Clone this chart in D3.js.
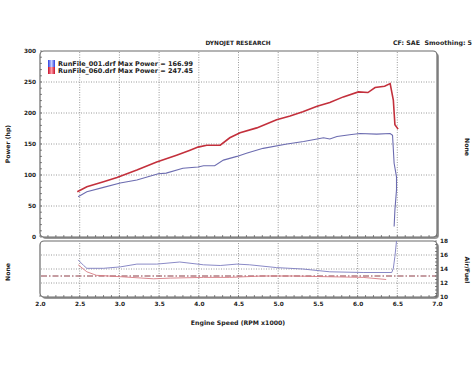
<!DOCTYPE html>
<html><head><meta charset="utf-8">
<script src="https://cdnjs.cloudflare.com/ajax/libs/d3/7.8.5/d3.min.js"></script>
<style>
html,body{margin:0;padding:0;background:#fff;}
svg{display:block;font-family:"DejaVu Sans",Verdana,sans-serif;font-weight:bold;}
</style></head><body>
<svg id="c" width="474" height="379"></svg>
<script>
// ---- data ----
const rpmTicks = [2.0,2.5,3.0,3.5,4.0,4.5,5.0,5.5,6.0,6.5,7.0];
const powerTicks = [0,50,100,150,200,250,300];
const afrTicks = [10,12,14,16,18];

const run1Rpm = [2.48,2.59,2.80,3.01,3.22,3.49,3.59,3.80,3.99,4.06,4.20,4.31,4.48,4.60,4.81,5.11,5.32,5.49,5.57,5.65,5.74,5.90,6.03,6.24,6.41,6.44,6.46,6.49,6.49,6.47,6.46];
const run1Hp  = [65,73,80,87,92,102,103,111,113,115,115,124,130,135,143,150,154,158,160,158,162,165,167,166,166.99,164,119,97,76,44,17];

const run60Rpm = [2.47,2.59,2.80,2.97,3.22,3.47,3.72,3.89,3.99,4.10,4.27,4.39,4.52,4.73,4.98,5.15,5.31,5.49,5.65,5.82,6.01,6.13,6.22,6.34,6.41,6.45,6.47,6.51];
const run60Hp  = [73,81,89,96,108,121,132,140,145,148,148,160,168,176,189,195,202,211,217,226,234,233,241,243,247.45,221,181,174];

const afr1Rpm = [2.48,2.55,2.59,2.80,3.01,3.22,3.47,3.76,4.06,4.27,4.48,4.64,4.98,5.31,5.65,6.07,6.43,6.45,6.47,6.49];
const afr1Val = [15.3,14.5,14.1,14.1,14.3,14.7,14.7,15.0,14.6,14.5,14.7,14.6,14.2,14.0,13.6,13.5,13.5,14.1,15.8,18.0];

const afr60Rpm = [2.48,2.59,2.71,3.01,3.43,3.64,4.06,4.39,4.80,5.20,5.60,6.07,6.36];
const afr60Val = [14.6,13.6,13.1,12.9,12.6,12.7,12.8,12.8,13.0,13.0,12.9,12.8,12.5];

const afrRef = 13.0;
const legendLabels = ["RunFile_001.drf Max Power = 166.99","RunFile_060.drf Max Power = 247.45"];

// ---- drawing ----
const svg = d3.select("#c");
const L=40, R=437, T1=51, B1=237, T2=241, B2=297;
const x = d3.scaleLinear().domain([2,7]).range([L,R]);
const yP = d3.scaleLinear().domain([0,300]).range([B1,T1]);
const yA = d3.scaleLinear().domain([10,18]).range([B2,T2]);

const blue="#6c6cb0", red="#c3303c";

// frames with shadow
function frame(t,b){
  svg.append("rect").attr("x",L+2).attr("y",t+2).attr("width",R-L).attr("height",b-t)
    .attr("rx",4).attr("fill","#9a9a9a");
  svg.append("rect").attr("x",L).attr("y",t).attr("width",R-L).attr("height",b-t)
    .attr("rx",4).attr("fill","#fff").attr("stroke","#6b6b6b").attr("stroke-width",1.2);
}
frame(T1,B1);
frame(T2,B2);

const grid = svg.append("g").attr("stroke","#808080").attr("stroke-width",0.8).attr("stroke-dasharray","1,1.5");
// top grid
rpmTicks.filter(v=>v>2&&v<7).forEach(v=>{
  grid.append("line").attr("x1",x(v)).attr("x2",x(v)).attr("y1",T1+1).attr("y2",B1-1);
});
powerTicks.filter(v=>v>0&&v<300).forEach(v=>{
  grid.append("line").attr("x1",L+1).attr("x2",R-1).attr("y1",yP(v)).attr("y2",yP(v));
});
// lower grid
rpmTicks.filter(v=>v>2&&v<7).forEach(v=>{
  grid.append("line").attr("x1",x(v)).attr("x2",x(v)).attr("y1",T2+2).attr("y2",B2-2);
});
afrTicks.filter(v=>v>10&&v<18).forEach(v=>{
  grid.append("line").attr("x1",L+1).attr("x2",R-1).attr("y1",yA(v)).attr("y2",yA(v));
});
// reference dash-dot line
svg.append("line").attr("x1",L+1).attr("x2",R-1).attr("y1",yA(afrRef)).attr("y2",yA(afrRef))
  .attr("stroke","#8b3a44").attr("stroke-width",1).attr("stroke-dasharray","6,2,1.5,2");

// axes
function styleAxis(g){
  g.select(".domain").remove();
  g.selectAll(".tick line").attr("stroke","#555");
  g.selectAll("text").attr("font-size",5.8).attr("font-weight","bold").attr("fill","#222")
    .attr("font-family","DejaVu Sans, Verdana, sans-serif");
}
svg.append("g").attr("transform",`translate(${L-4},0)`)
  .call(d3.axisLeft(yP).tickValues(powerTicks).tickSize(0).tickPadding(0).tickFormat(d3.format("d")))
  .call(styleAxis);
svg.append("g").attr("transform",`translate(${R+3},0)`)
  .call(d3.axisRight(yA).tickValues(afrTicks).tickSize(0).tickPadding(0).tickFormat(d3.format("d")))
  .call(styleAxis);
svg.append("g").attr("transform",`translate(0,${B2+1})`)
  .call(d3.axisBottom(x).tickValues(rpmTicks).tickSize(0).tickPadding(4).tickFormat(d3.format(".1f")))
  .call(styleAxis);

// minor ticks
const minor = d3.range(2,7.001,0.1);
const mt = svg.append("g").attr("stroke","#555").attr("stroke-width",0.7);
minor.forEach(v=>{
  mt.append("line").attr("x1",x(v)).attr("x2",x(v)).attr("y1",B2-2).attr("y2",B2);
  mt.append("line").attr("x1",x(v)).attr("x2",x(v)).attr("y1",B1-2).attr("y2",B1);
});
d3.range(0,300.1,10).forEach(v=>{
  mt.append("line").attr("x1",L).attr("x2",L+2).attr("y1",yP(v)).attr("y2",yP(v));
});
d3.range(10,18.01,0.5).forEach(v=>{
  mt.append("line").attr("x1",R-2).attr("x2",R).attr("y1",yA(v)).attr("y2",yA(v));
});

// power lines
const lineP = d3.line().x(d=>x(d[0])).y(d=>yP(d[1]));
svg.append("path").datum(d3.zip(run1Rpm,run1Hp)).attr("d",lineP)
  .attr("fill","none").attr("stroke",blue).attr("stroke-width",1.1);
svg.append("path").datum(d3.zip(run60Rpm,run60Hp)).attr("d",lineP)
  .attr("fill","none").attr("stroke",red).attr("stroke-width",1.6);

// afr lines
const lineA = d3.line().x(d=>x(d[0])).y(d=>yA(d[1]));
svg.append("path").datum(d3.zip(afr60Rpm,afr60Val)).attr("d",lineA)
  .attr("fill","none").attr("stroke","#d77a82").attr("stroke-width",0.9);
svg.append("path").datum(d3.zip(afr1Rpm,afr1Val)).attr("d",lineA)
  .attr("fill","none").attr("stroke","#7c7cc0").attr("stroke-width",0.9);

// legend
const defs = svg.append("defs");
[["gb","#2c3ee0","#c8d0ff"],["gr","#c8102a","#ff9aa6"]].forEach(([id,c1,c2])=>{
  const g = defs.append("linearGradient").attr("id",id).attr("x1",0).attr("x2",1);
  g.append("stop").attr("offset",0).attr("stop-color",c1);
  g.append("stop").attr("offset",0.5).attr("stop-color",c2);
  g.append("stop").attr("offset",1).attr("stop-color",c1);
});
legendLabels.forEach((t,i)=>{
  svg.append("rect").attr("x",48).attr("y",60+i*7).attr("width",7).attr("height",7)
    .attr("fill",i===0?"url(#gb)":"url(#gr)");
  svg.append("text").attr("x",58).attr("y",66+i*7).attr("font-size",6.5).attr("fill","#222").text(t);
});

// titles
svg.append("text").attr("x",238).attr("y",45).attr("text-anchor","middle").attr("font-size",5.8).attr("fill","#222").text("DYNOJET RESEARCH");
svg.append("text").attr("x",393).attr("y",45).attr("font-size",6.3).attr("fill","#222").text("CF: SAE");
svg.append("text").attr("x",472).attr("y",45).attr("text-anchor","end").attr("font-size",6.3).attr("fill","#222").text("Smoothing: 5");
svg.append("text").attr("x",238).attr("y",325).attr("text-anchor","middle").attr("font-size",6.2).attr("fill","#222").text("Engine Speed (RPM x1000)");
svg.append("text").attr("transform","translate(10,144) rotate(-90)").attr("text-anchor","middle").attr("font-size",6.2).attr("fill","#222").text("Power (hp)");
svg.append("text").attr("transform","translate(10,272) rotate(-90)").attr("text-anchor","middle").attr("font-size",6.2).attr("fill","#222").text("None");
svg.append("text").attr("transform","translate(465,147) rotate(90)").attr("text-anchor","middle").attr("font-size",6.2).attr("fill","#222").text("None");
svg.append("text").attr("transform","translate(465,270) rotate(90)").attr("text-anchor","middle").attr("font-size",6.2).attr("fill","#222").text("Air/Fuel");
</script>
</body></html>
